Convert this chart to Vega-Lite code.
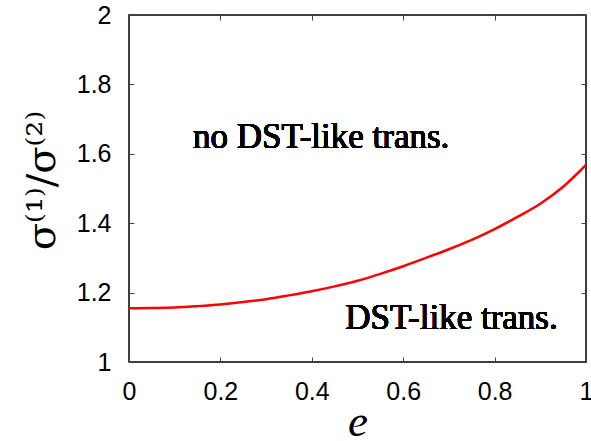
{
  "$schema": "https://vega.github.io/schema/vega-lite/v6.json",
  "autosize": {"type": "none"},
  "padding": {"left": 129, "top": 15, "right": 5, "bottom": 79},
  "width": 457,
  "height": 347,
  "background": "white",
  "config": {
    "view": {"stroke": "#000000", "strokeWidth": 1.5},
    "axis": {
      "grid": false,
      "domain": false,
      "tickSize": -5,
      "tickColor": "#444444",
      "tickWidth": 1,
      "labelFont": "Liberation Sans",
      "labelFontSize": 25,
      "labelColor": "#000000"
    }
  },
  "data": {
    "values": [
      {"e": 0.0, "r": 1.1547},
      {"e": 0.05, "r": 1.1555},
      {"e": 0.1, "r": 1.157},
      {"e": 0.15, "r": 1.161},
      {"e": 0.2, "r": 1.166},
      {"e": 0.25, "r": 1.173},
      {"e": 0.3, "r": 1.181},
      {"e": 0.35, "r": 1.192},
      {"e": 0.4, "r": 1.204},
      {"e": 0.45, "r": 1.218},
      {"e": 0.5, "r": 1.234},
      {"e": 0.55, "r": 1.254},
      {"e": 0.6, "r": 1.276},
      {"e": 0.65, "r": 1.300},
      {"e": 0.7, "r": 1.325},
      {"e": 0.75, "r": 1.352},
      {"e": 0.8, "r": 1.383},
      {"e": 0.85, "r": 1.418},
      {"e": 0.9, "r": 1.456},
      {"e": 0.95, "r": 1.505},
      {"e": 1.0, "r": 1.568}
    ]
  },
  "layer": [
    {
      "mark": {"type": "line", "color": "#ff0000", "strokeWidth": 2.5, "interpolate": "monotone", "clip": true},
      "encoding": {
        "x": {
          "field": "e", "type": "quantitative",
          "scale": {"domain": [0, 1], "nice": false, "zero": false},
          "axis": {
            "orient": "bottom",
            "values": [0, 0.2, 0.4, 0.6, 0.8, 1],
            "format": "~g",
            "labelPadding": 22,
            "labelFlush": false,
            "title": "e",
            "titleFont": "Liberation Serif",
            "titleFontStyle": "italic",
            "titleFontWeight": "normal",
            "titleFontSize": 45,
            "titleColor": "#000000",
            "titleBaseline": "alphabetic",
            "titleY": 73
          }
        },
        "y": {
          "field": "r", "type": "quantitative",
          "scale": {"domain": [1, 2], "nice": false, "zero": false},
          "axis": {
            "orient": "left",
            "values": [1, 1.2, 1.4, 1.6, 1.8, 2],
            "format": "~g",
            "labelPadding": 23,
            "labelFlush": false,
            "title": "σ⁽¹⁾/σ⁽²⁾",
            "titleFont": "DejaVu Serif",
            "titleFontStyle": "normal",
            "titleFontWeight": "normal",
            "titleFontSize": 40,
            "titleColor": "#000000",
            "titleBaseline": "alphabetic",
            "titleAngle": -90,
            "titleX": -75,
            "titleY": 165
          }
        }
      }
    },
    {
      "mark": {"type": "line", "strokeOpacity": 0},
      "encoding": {
        "x": {
          "field": "e", "type": "quantitative",
          "axis": {"orient": "top", "values": [0, 0.2, 0.4, 0.6, 0.8, 1], "labels": false, "title": null}
        },
        "y": {
          "field": "r", "type": "quantitative",
          "axis": {"orient": "right", "values": [1, 1.2, 1.4, 1.6, 1.8, 2], "labels": false, "title": null}
        }
      }
    },
    {
      "mark": {"type": "text", "text": "no DST-like trans.", "font": "Liberation Serif", "fontSize": 35, "align": "left", "baseline": "alphabetic", "color": "#000000"},
      "encoding": {
        "x": {"datum": 0.14, "type": "quantitative", "axis": null},
        "y": {"datum": 1.616, "type": "quantitative", "axis": null}
      }
    },
    {
      "mark": {"type": "text", "text": "DST-like trans.", "font": "Liberation Serif", "fontSize": 35, "align": "left", "baseline": "alphabetic", "color": "#000000"},
      "encoding": {
        "x": {"datum": 0.473, "type": "quantitative", "axis": null},
        "y": {"datum": 1.094, "type": "quantitative", "axis": null}
      }
    }
  ]
}
